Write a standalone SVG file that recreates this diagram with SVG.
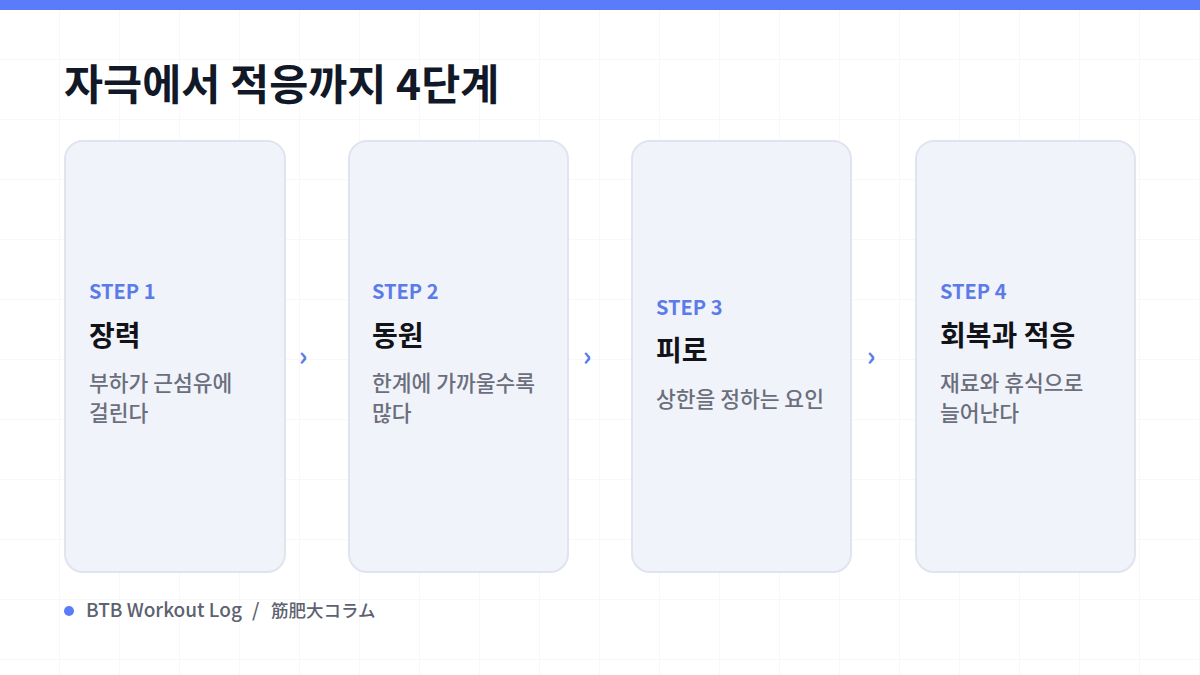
<svg xmlns="http://www.w3.org/2000/svg" width="1200" height="675" viewBox="0 0 1200 675">
<defs>
<pattern id="grid" width="60" height="60" patternUnits="userSpaceOnUse">
<path d="M60 0 V60 M0 60 H60" fill="none" stroke="#eef0f5" stroke-width="1"/>
</pattern>
<style>
.card{fill:#f1f3fb;stroke:#e0e4ef;stroke-width:2}
.step{font-family:"Noto Sans CJK KR","Noto Sans",sans-serif;font-size:20px;font-weight:700;fill:#5b7ce8}
.ttl{font-family:"Noto Sans CJK KR",sans-serif;font-size:28px;font-weight:700;fill:#111318}
.desc{font-family:"Noto Sans CJK KR",sans-serif;font-size:21.5px;font-weight:500;fill:#6b6f7b}
.arr{font-family:"Noto Sans CJK KR",sans-serif;font-size:27px;font-weight:700;fill:#5b7ce8}
</style>
</defs>
<rect width="1200" height="675" fill="#ffffff"/>
<rect width="1200" height="675" fill="url(#grid)"/>
<rect width="1200" height="10" fill="#5b7cfa"/>
<text x="64" y="100" font-family="'Noto Sans CJK KR',sans-serif" font-size="42.5" font-weight="700" fill="#111827">자극에서 적응까지 4단계</text>

<g id="step1">
<rect class="card" x="65" y="141" width="220" height="431" rx="18"/>
<text class="step" x="89" y="299">STEP 1</text>
<text class="ttl" x="89" y="346">장력</text>
<text class="desc" x="89" y="391">부하가 근섬유에</text>
<text class="desc" x="89" y="421">걸린다</text>
</g>
<g id="step2">
<rect class="card" x="349" y="141" width="219" height="431" rx="18"/>
<text class="step" x="372" y="299">STEP 2</text>
<text class="ttl" x="372" y="346">동원</text>
<text class="desc" x="372" y="391">한계에 가까울수록</text>
<text class="desc" x="372" y="421">많다</text>
</g>
<g id="step3">
<rect class="card" x="632" y="141" width="219" height="431" rx="18"/>
<text class="step" x="656" y="315">STEP 3</text>
<text class="ttl" x="656" y="361">피로</text>
<text class="desc" x="656" y="407">상한을 정하는 요인</text>
</g>
<g id="step4">
<rect class="card" x="916" y="141" width="219" height="431" rx="18"/>
<text class="step" x="940" y="299">STEP 4</text>
<text class="ttl" x="940" y="346">회복과 적응</text>
<text class="desc" x="940" y="391">재료와 휴식으로</text>
<text class="desc" x="940" y="421">늘어난다</text>
</g>
<g id="connectors">
<text class="arr" x="303" y="366" text-anchor="middle">›</text>
<text class="arr" x="587" y="366" text-anchor="middle">›</text>
<text class="arr" x="871" y="366" text-anchor="middle">›</text>
</g>
<g id="footer">
<circle cx="69" cy="611" r="5" fill="#5b7cfa"/>
<text y="617" font-family="'Noto Sans CJK JP','Noto Sans CJK KR',sans-serif" font-size="19" font-weight="500" fill="#5d6270"><tspan x="86">BTB Workout Log</tspan><tspan x="252">/</tspan><tspan x="271" font-size="17.5">筋肥大コラム</tspan></text>
</g>
</svg>
